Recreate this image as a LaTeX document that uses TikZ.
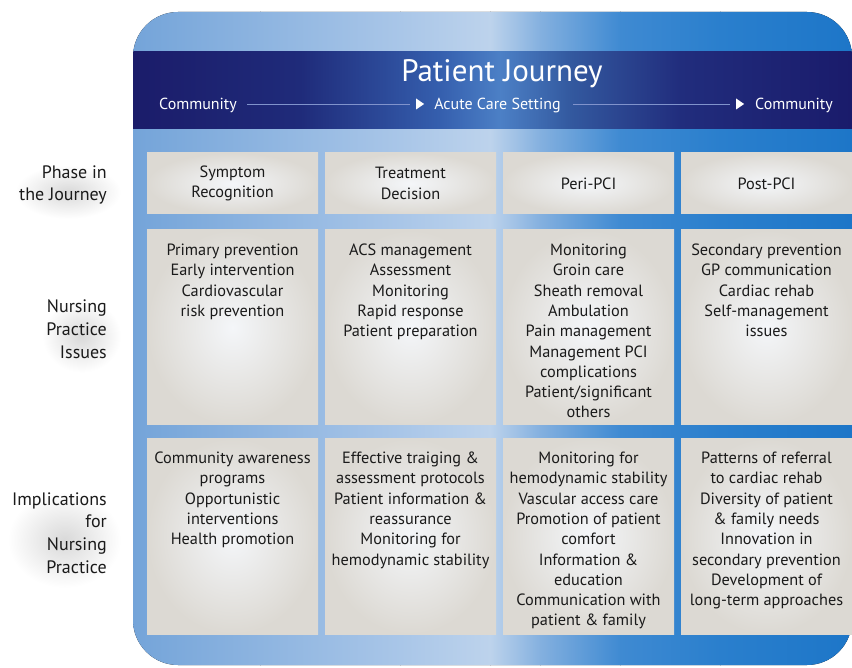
\documentclass[tikz,border=0pt]{standalone}
\usepackage{fontspec}
\setmainfont{PT Sans}
\usetikzlibrary{shapes.geometric,calc,backgrounds}
\definecolor{o0}{HTML}{74A4D9}
\definecolor{o1}{HTML}{8DB4E0}
\definecolor{o2}{HTML}{A9C6E8}
\definecolor{o3}{HTML}{BDD3EC}
\definecolor{o4}{HTML}{84B0DF}
\definecolor{o5}{HTML}{3F8AD2}
\definecolor{o6}{HTML}{2A7FCD}
\definecolor{o7}{HTML}{1D76C8}
\definecolor{h0}{HTML}{1B1C6A}
\definecolor{h1}{HTML}{1F2B7A}
\definecolor{h2}{HTML}{355FAE}
\definecolor{h3}{HTML}{4C80C6}
\definecolor{h4}{HTML}{33599F}
\definecolor{h5}{HTML}{212D7D}
\definecolor{h6}{HTML}{1A1B6B}
\definecolor{glow}{HTML}{F4F6F9}
\definecolor{cellbase}{HTML}{DCD9D3}
\definecolor{txt}{HTML}{1A1A1A}
\definecolor{hl}{HTML}{8093CC}
\newcommand\sidelabel[3]{%
  \node[lbl] (#1) at (107,#2) {#3};
  \begin{scope}[on background layer]
    \path[shading=radial, inner color=black!15, outer color=white]
      ($(#1.south west)+(-4,14)$) rectangle ($(#1.north east)+(14,0)$);
  \end{scope}
}
\begin{document}
\begin{tikzpicture}[x=1pt,y=-1pt,
  cell/.style={inner sep=0pt, minimum width=171pt, shading=radial, inner color=glow, outer color=cellbase},
  ctext/.style={align=center, inner sep=0pt, text=txt, font=\fontsize{16.3}{20.3}\selectfont},
  htext/.style={text=white, inner sep=0pt, font=\fontsize{16}{18}\selectfont, anchor=base},
  tri/.style={isosceles triangle, isosceles triangle apex angle=60, isosceles triangle stretches, fill=white, inner sep=0pt, minimum height=8pt, minimum width=11pt},
  hline/.style={draw=hl, line width=0.8pt},
  lbl/.style={align=right, inner sep=0pt, font=\fontsize{18}{22.8}\selectfont, text=txt, anchor=east}
]
\useasboundingbox (0,0) rectangle (852,668);
% outer rounded panel
\begin{scope}
  \clip[rounded corners=45pt] (133,12) rectangle (852,665);
  \fill[left color=o0, right color=o1] (133,0) rectangle (260.5,668);
  \fill[left color=o1, right color=o2] (260,0) rectangle (400.5,668);
  \fill[left color=o2, right color=o3] (400,0) rectangle (490.5,668);
  \fill[left color=o3, right color=o4] (490,0) rectangle (540.5,668);
  \fill[left color=o4, right color=o5] (540,0) rectangle (620.5,668);
  \fill[left color=o5, right color=o6] (620,0) rectangle (720.5,668);
  \fill[left color=o6, right color=o7] (720,0) rectangle (852,668);
  % header band
  \fill[left color=h0, right color=h1] (133,52) rectangle (300.5,129);
  \fill[left color=h1, right color=h2] (300,52) rectangle (440.5,129);
  \fill[left color=h2, right color=h3] (440,52) rectangle (500.5,129);
  \fill[left color=h3, right color=h4] (500,52) rectangle (570.5,129);
  \fill[left color=h4, right color=h5] (570,52) rectangle (680.5,129);
  \fill[left color=h5, right color=h6] (680,52) rectangle (852,129);
\end{scope}
% header texts
\node[text=white, inner sep=0pt, font=\fontsize{31}{34}\selectfont, anchor=base] (title) at (502,82) {Patient Journey};
\node[htext] (comA) at (198,110) {Community};
\node[tri] (triA) at (419,104) {};
\node[htext] (acute) at (497.5,110) {Acute Care Setting};
\node[tri] (triB) at (739,104) {};
\node[htext] (comB) at (794,110) {Community};
\draw[hline, shorten <=10pt, shorten >=6pt] (comA.east |- triA.west) -- (triA.west);
\draw[hline, shorten <=12pt, shorten >=6pt] (acute.east |- triB.west) -- (triB.west);
% cells
\foreach \c/\x in {1/232.5, 2/410.5, 3/588.5, 4/766.5}{
  \node[cell, minimum height=61pt] (r1c\c) at (\x,183.5) {};
  \node[cell, minimum height=195pt] (r2c\c) at (\x,327.5) {};
  \node[cell, minimum height=196pt] (r3c\c) at (\x,536) {};
}
% row 1
\node[ctext] (t1c1) at (r1c1) {Symptom\\Recognition};
\node[ctext] (t1c2) at (r1c2) {Treatment\\Decision};
\node[ctext] (t1c3) at (r1c3) {Peri-PCI};
\node[ctext] (t1c4) at (r1c4) {Post-PCI};
% row 2
\node[ctext, anchor=north] (t2c1) at ($(r2c1.north)+(0,14)$) {Primary prevention\\Early intervention\\Cardiovascular\\risk prevention};
\node[ctext, anchor=north] (t2c2) at ($(r2c2.north)+(0,14)$) {ACS management\\Assessment\\Monitoring\\Rapid response\\Patient preparation};
\node[ctext, anchor=north] (t2c3) at ($(r2c3.north)+(0,14)$) {Monitoring\\Groin care\\Sheath removal\\Ambulation\\Pain management\\Management PCI\\complications\\Patient/significant\\others};
\node[ctext, anchor=north] (t2c4) at ($(r2c4.north)+(0,14)$) {Secondary prevention\\GP communication\\Cardiac rehab\\Self-management\\issues};
% row 3
\node[ctext, anchor=north] (t3c1) at ($(r3c1.north)+(0,14)$) {Community awareness\\programs\\Opportunistic\\interventions\\Health promotion};
\node[ctext, anchor=north] (t3c2) at ($(r3c2.north)+(0,14)$) {Effective traiging \&\\assessment protocols\\Patient information \&\\reassurance\\Monitoring for\\hemodynamic stability};
\node[ctext, anchor=north] (t3c3) at ($(r3c3.north)+(0,14)$) {Monitoring for\\hemodynamic stability\\Vascular access care\\Promotion of patient\\comfort\\Information \&\\education\\Communication with\\patient \& family};
\node[ctext, anchor=north] (t3c4) at ($(r3c4.north)+(0,14)$) {Patterns of referral\\to cardiac rehab\\Diversity of patient\\\& family needs\\Innovation in\\secondary prevention\\Development of\\long-term approaches};
% side labels
\sidelabel{labA}{185}{Phase in\\the Journey}
\sidelabel{labB}{329}{Nursing\\Practice\\Issues}
\sidelabel{labC}{533}{Implications\\for\\Nursing\\Practice}
\end{tikzpicture}
\end{document}
